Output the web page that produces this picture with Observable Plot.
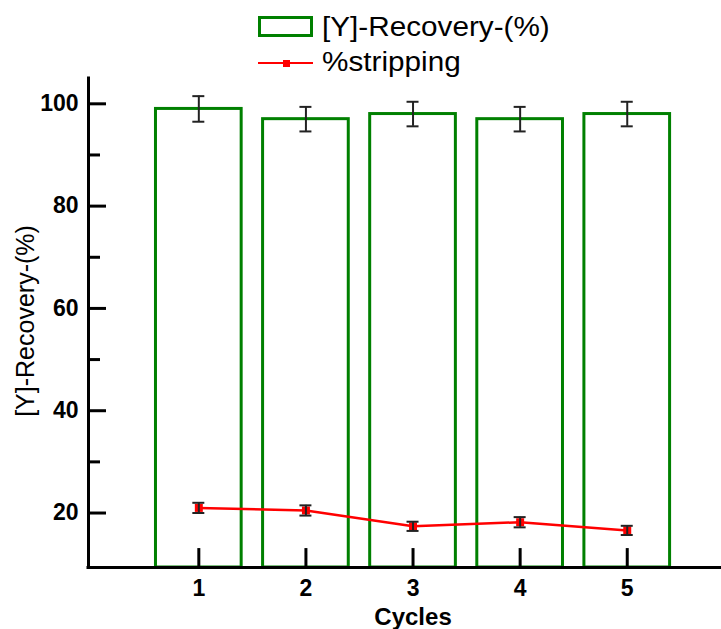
<!DOCTYPE html>
<html>
<head>
<meta charset="utf-8">
<script src="https://cdn.jsdelivr.net/npm/d3@7"></script>
<script src="https://cdn.jsdelivr.net/npm/@observablehq/plot@0.6"></script>
<style>
  html, body { margin: 0; padding: 0; background: #ffffff; }
  body { width: 721px; height: 629px; overflow: hidden; font-family: "Liberation Sans", Arial, sans-serif; }
  #legend { position: relative; width: 721px; height: 70px; }
  #legend .sw-bar { position: absolute; left: 258px; top: 16px; width: 55px; height: 21px; box-sizing: border-box; border: 3px solid #008000; background: #fff; }
  #legend .sw-line { position: absolute; left: 258px; top: 61.5px; width: 55px; height: 2.5px; background: #ff0000; }
  #legend .sw-mark { position: absolute; left: 283px; top: 59.5px; width: 7px; height: 7px; background: #ff0000; }
  #legend .lab { position: absolute; left: 322px; font-size: 27px; line-height: 30px; color: #000; transform: scaleX(1.1); transform-origin: left center; white-space: nowrap; }
</style>
</head>
<body>
<div id="legend">
  <div class="sw-bar"></div>
  <div class="lab" style="top:12px">[Y]-Recovery-(%)</div>
  <div class="sw-line"></div>
  <div class="sw-mark"></div>
  <div class="lab" style="top:47px">%stripping</div>
</div>
<div id="chart"></div>
<script>
// ---- data ----
const cycles = [1, 2, 3, 4, 5];
const recovery = [99.0, 97.0, 98.0, 97.0, 98.0];
const recoveryErr = [2.5, 2.4, 2.4, 2.4, 2.4];
const stripping = [21.0, 20.5, 17.4, 18.2, 16.6];
const strippingErr = [1.0, 1.0, 0.9, 1.0, 0.9];
const yTicks = [20, 40, 60, 80, 100];
const yMinorTicks = [30, 50, 70, 90];
const xTicks = [1, 2, 3, 4, 5];
const yLabel = "[Y]-Recovery-(%)";
const xLabel = "Cycles";

const data = cycles.map((c, i) => ({
  cycle: c, rec: recovery[i], recErr: recoveryErr[i],
  strip: stripping[i], stripErr: strippingErr[i]
}));

const X0 = -0.03, X1 = 5.88, Y0 = 9.35, Y1 = 104.95;
const ink = "#000000";
const errInk = "#222222";

const chart = Plot.plot({
  width: 721,
  height: 559,
  marginTop: 8,
  marginBottom: 62,
  marginLeft: 88,
  marginRight: 0,
  style: { fontFamily: "'Liberation Sans', Arial, sans-serif", background: "#ffffff", color: "#000", overflow: "visible" },
  x: { domain: [X0, X1] },
  y: { domain: [Y0, Y1] },
  marks: [
    // bars (hollow)
    Plot.rect(data, { x1: d => d.cycle - 0.4, x2: d => d.cycle + 0.4, y1: Y0, y2: "rec", fill: "none", stroke: "#008000", strokeWidth: 3 }),
    // recovery error bars
    Plot.ruleX(data, { x: "cycle", y1: d => d.rec - d.recErr, y2: d => d.rec + d.recErr, stroke: errInk, strokeWidth: 2 }),
    Plot.ruleY(data, { y: d => d.rec + d.recErr, x1: d => d.cycle - 0.056, x2: d => d.cycle + 0.056, stroke: errInk, strokeWidth: 2 }),
    Plot.ruleY(data, { y: d => d.rec - d.recErr, x1: d => d.cycle - 0.056, x2: d => d.cycle + 0.056, stroke: errInk, strokeWidth: 2 }),
    // stripping line + markers
    Plot.line(data, { x: "cycle", y: "strip", stroke: "#ff0000", strokeWidth: 2.5 }),
    Plot.dot(data, { x: "cycle", y: "strip", symbol: "square", r: 4.5, fill: "#ff0000", stroke: "none" }),
    Plot.ruleX(data, { x: "cycle", y1: d => d.strip - d.stripErr, y2: d => d.strip + d.stripErr, stroke: errInk, strokeWidth: 2 }),
    Plot.ruleY(data, { y: d => d.strip + d.stripErr, x1: d => d.cycle - 0.056, x2: d => d.cycle + 0.056, stroke: errInk, strokeWidth: 2 }),
    Plot.ruleY(data, { y: d => d.strip - d.stripErr, x1: d => d.cycle - 0.056, x2: d => d.cycle + 0.056, stroke: errInk, strokeWidth: 2 }),
    // axis lines
    Plot.ruleY([Y0], { stroke: ink, strokeWidth: 3, strokeLinecap: "square" }),
    Plot.ruleX([X0], { stroke: ink, strokeWidth: 3, strokeLinecap: "square" }),
    // inward ticks
    Plot.ruleY(yTicks, { y: d => d, x1: X0, x2: X0 + 0.168, stroke: ink, strokeWidth: 3 }),
    Plot.ruleY(yMinorTicks, { y: d => d, x1: X0, x2: X0 + 0.112, stroke: ink, strokeWidth: 3 }),
    Plot.ruleX(xTicks, { x: d => d, y1: Y0, y2: Y0 + 3.7, stroke: ink, strokeWidth: 3 }),
    // tick labels
    Plot.axisY({ ticks: yTicks, tickSize: 0, tickPadding: 10, fontSize: 23, fontWeight: "bold", label: null, tickFormat: d => String(d) }),
    Plot.axisX({ ticks: xTicks, tickSize: 0, tickPadding: 12, fontSize: 23, fontWeight: "bold", label: null, tickFormat: d => String(d) }),
    // axis titles
    Plot.text([yLabel], { frameAnchor: "left", dx: -63, dy: -2, rotate: -90, textAnchor: "middle", lineAnchor: "middle", fontSize: 25, fill: ink }),
    Plot.text([xLabel], { x: 3, frameAnchor: "bottom", lineAnchor: "top", dy: 40, textAnchor: "middle", fontSize: 24, fontWeight: "bold", fill: ink })
  ]
});
document.getElementById("chart").appendChild(chart);
</script>
</body>
</html>
